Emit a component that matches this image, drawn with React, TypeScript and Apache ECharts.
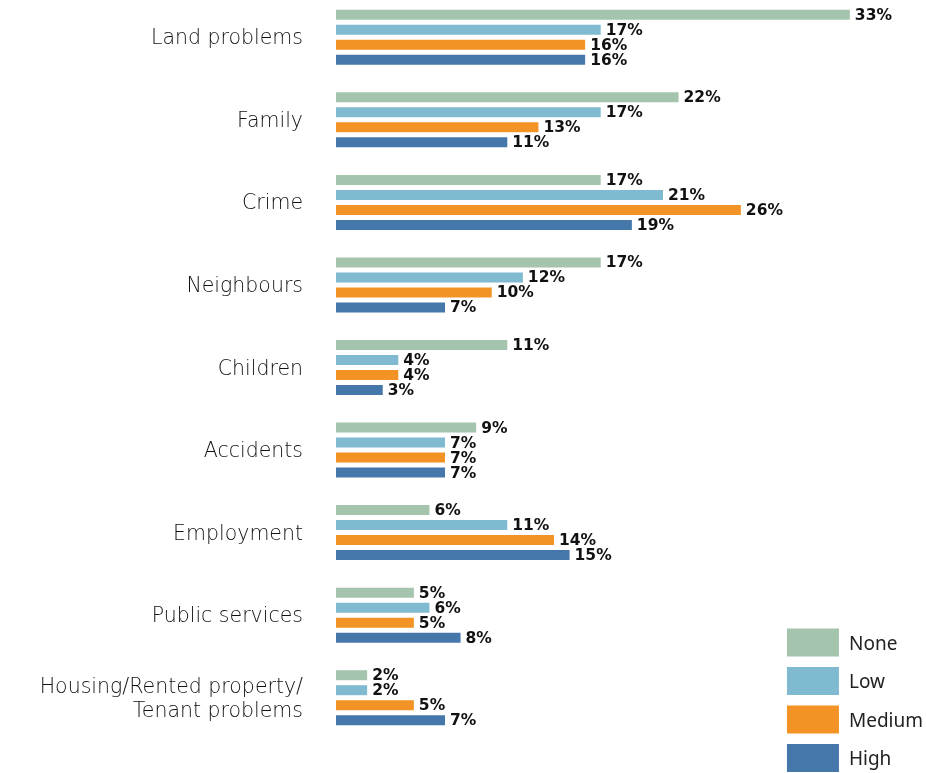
import React, { useEffect, useRef } from "react";
import * as echarts from "echarts";

const categories = [
  "Land problems",
  "Family",
  "Crime",
  "Neighbours",
  "Children",
  "Accidents",
  "Employment",
  "Public services",
  "Housing/Rented property/\nTenant problems",
];
const seriesNames = ["None", "Low", "Medium", "High"];
const noneValues = [33, 22, 17, 17, 11, 9, 6, 5, 2];
const lowValues = [17, 17, 21, 12, 4, 7, 11, 6, 2];
const mediumValues = [16, 13, 26, 10, 4, 7, 14, 5, 5];
const highValues = [16, 11, 19, 7, 3, 7, 15, 8, 7];
const colors = ["#a5c4ad", "#7fbad0", "#f39325", "#4577ab"];

export default function App() {
  const ref = useRef<HTMLDivElement>(null);
  useEffect(() => {
    if (!ref.current) return;
    const chart = echarts.init(ref.current, null, { renderer: "svg" });
    const data = [noneValues, lowValues, mediumValues, highValues];
    chart.setOption({
      animation: false,
      grid: { left: 336, right: 45, top: 0, bottom: 34, containLabel: false },
      xAxis: {
        type: "value",
        min: 0,
        max: 35,
        show: false,
      },
      yAxis: {
        type: "category",
        data: categories,
        inverse: true,
        axisLine: { show: false },
        axisTick: { show: false },
        axisLabel: {
          margin: 33,
          fontFamily: "DejaVu Sans",
          fontWeight: 200,
          fontSize: 20.5,
          color: "#111",
          lineHeight: 24,
          align: "right",
        },
      },
      legend: {
        orient: "vertical",
        right: 3,
        bottom: 1,
        padding: 0,
        itemWidth: 52,
        itemHeight: 28,
        itemGap: 10.5,
        icon: "rect",
        textStyle: { fontFamily: "Noto Sans", fontSize: 19, color: "#222", padding: [0, 0, 0, 5] },
        data: seriesNames,
      },
      series: seriesNames.map((name, i) => ({
        name,
        type: "bar",
        data: data[i],
        barWidth: 10,
        barGap: "50%",
        itemStyle: { color: colors[i] },
        label: {
          show: true,
          position: "right",
          distance: 5,
          formatter: "{c}%",
          fontFamily: "DejaVu Sans",
          fontWeight: "bold",
          fontSize: 15.5,
          color: "#111",
        },
      })),
    });
    return () => chart.dispose();
  }, []);
  return (
    <div
      ref={ref}
      style={{ position: "fixed", left: 0, top: -4, width: 926, height: 777 }}
    />
  );
}
